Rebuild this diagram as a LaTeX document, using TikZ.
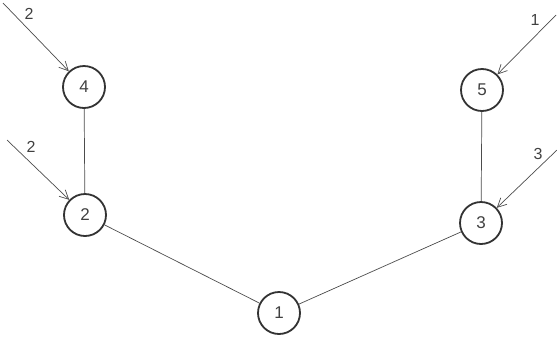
\documentclass[tikz,border=0pt]{standalone}
\usepackage{fontspec}
\setmainfont{Liberation Sans}
\usetikzlibrary{arrows.meta}
\begin{document}
\begin{tikzpicture}[x=1pt,y=-1pt,
  state/.style={circle,draw=black!80,line width=1.8pt,minimum size=42pt,inner sep=0pt,font=\fontsize{17}{17}\selectfont,text=black!75},
  edge/.style={draw=black!70,line width=0.7pt},
  inarrow/.style={edge,-{Straight Barb[length=9pt,width=9pt,line width=0.7pt]}},
  lbl/.style={font=\fontsize{16}{16}\selectfont,text=black!75,inner sep=0pt}]
\useasboundingbox (0,0) rectangle (557,338);
\node[state] (n4) at (84,87) {4};
\node[state] (n2) at (85,215) {2};
\node[state] (n1) at (279,313) {1};
\node[state] (n3) at (481,223) {3};
\node[state] (n5) at (482,90) {5};
\coordinate (s4) at (3,3);
\coordinate (s2) at (7,140);
\coordinate (s5) at (556,15);
\coordinate (s3) at (557,150);
\draw[edge] (n4) -- (n2);
\draw[edge] (n5) -- (n3);
\draw[edge] (n2) -- (n1);
\draw[edge] (n1) -- (n3);
\draw[inarrow] (s4) -- (n4);
\draw[inarrow] (s2) -- (n2);
\draw[inarrow] (s5) -- (n5);
\draw[inarrow] (s3) -- (n3);
\node[lbl] (l4) at (29,14) {2};
\node[lbl] (l2) at (31,147) {2};
\node[lbl] (l5) at (535,20) {1};
\node[lbl] (l3) at (538,154) {3};
\end{tikzpicture}
\end{document}
